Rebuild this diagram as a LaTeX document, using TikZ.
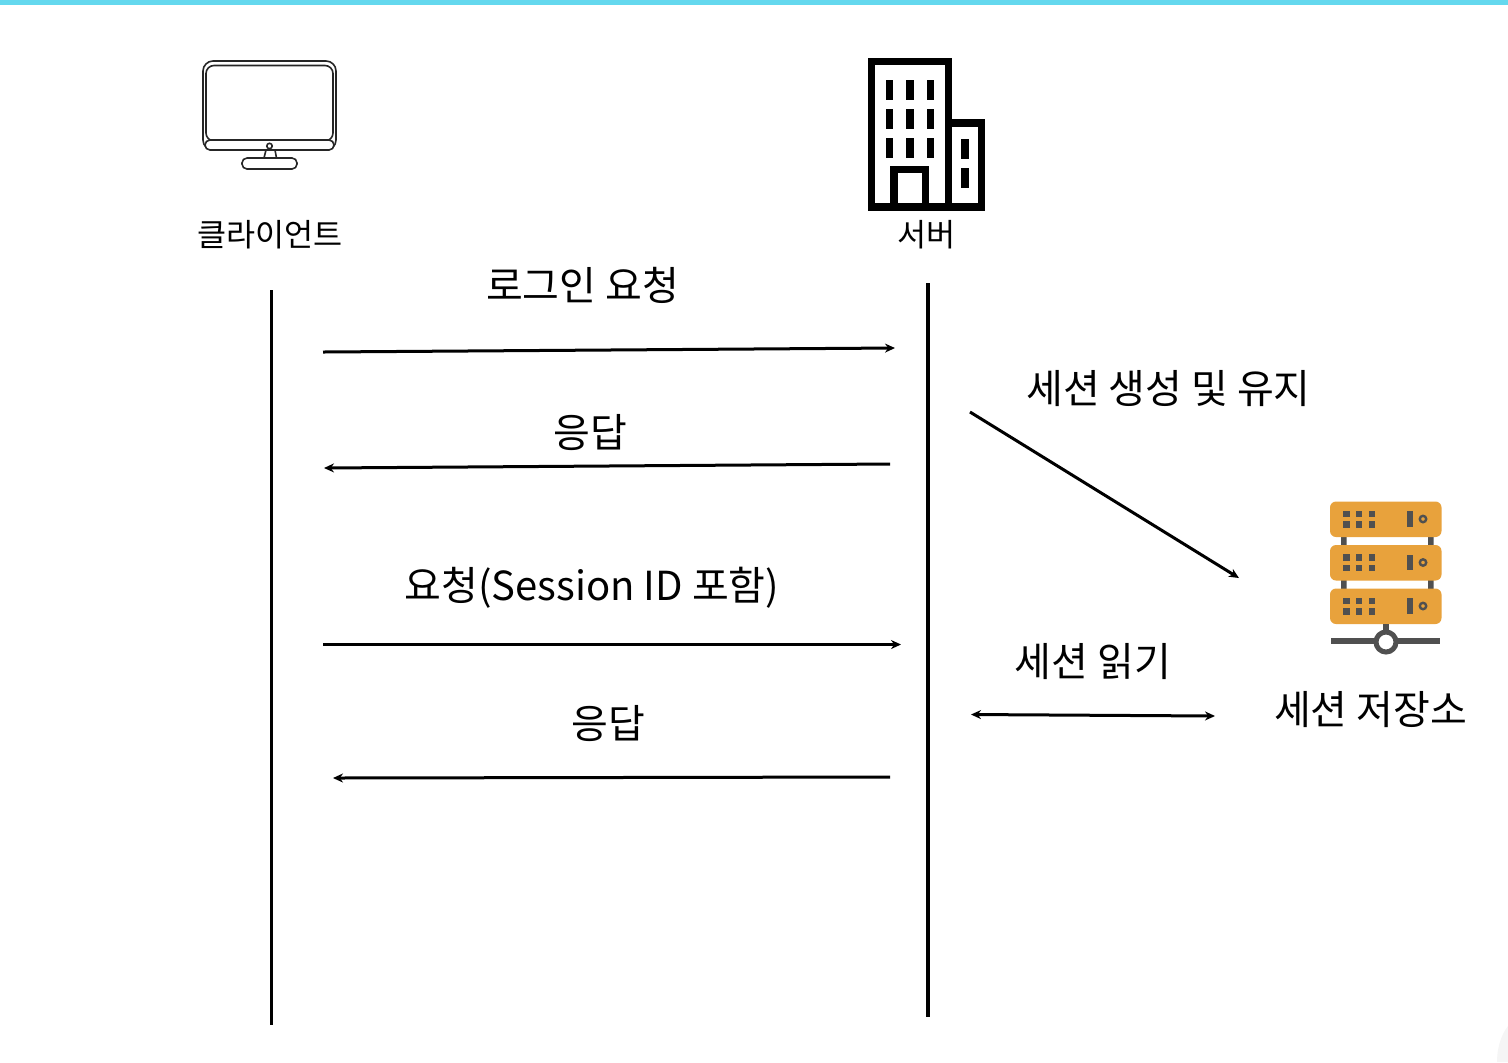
\documentclass[tikz,border=0pt]{standalone}
\usepackage{fontspec}
\setmainfont{Noto Sans CJK KR}
\usetikzlibrary{arrows.meta}
\definecolor{topbar}{HTML}{64D8EE}
\definecolor{rackfill}{HTML}{E8A23C}
\definecolor{rackdark}{HTML}{505050}
\tikzset{
  lifeline/.style={line width=1.6pt},
  message/.style={line width=1.5pt,-{Stealth[length=5pt,width=4.5pt]}},
  msglabel/.style={inner sep=0pt,font=\fontsize{20pt}{22pt}\selectfont},
  iconlabel/.style={inner sep=0pt,font=\fontsize{15.8pt}{18pt}\selectfont},
  monitorline/.style={line width=0.8pt,black!85},
  towerline/.style={line width=3.6pt,line join=miter},
}
\begin{document}
\begin{tikzpicture}[x=0.5pt,y=-0.5pt]
  \useasboundingbox (0,0) rectangle (1508,1062);
  \fill[topbar] (0,0) rectangle (1508,5);
  \fill[black!4] (1508,1026) .. controls (1500,1036) and (1497,1050) .. (1497,1062) -- (1508,1062) -- cycle;
  % client icon
  \draw[monitorline,rounded corners=5pt] (203,61) rectangle (336,150);
  \draw[monitorline,rounded corners=4pt] (206,65.5) rectangle (333,141);
  \draw[monitorline,fill=white,rounded corners=2.5pt] (205,140) rectangle (334,150);
  \draw[monitorline] (264,158) -- (266,150) (275,150) -- (276.5,158);
  \draw[monitorline,fill=white] (269.5,146) circle[radius=2.7];
  \draw[monitorline,rounded corners=2.5pt] (242,158) rectangle (297,169);
  % server icon
  \draw[towerline] (871.5,61.5) rectangle (948.5,207);
  \draw[towerline] (948.5,123) rectangle (981.5,207);
  \draw[towerline] (894,207) -- (894,169.5) -- (925.7,169.5) -- (925.7,207);
  \foreach \wx in {889.5,910,930.5}{
    \foreach \wy in {90,119,148}{
      \fill (\wx-3.8,\wy-10) rectangle (\wx+3.8,\wy+10);
    }
  }
  \foreach \wy in {149,178}{
    \fill (961,\wy-10) rectangle (968.7,\wy+10);
  }
  % store icon
  \fill[rackdark] (1341,530) rectangle (1346.5,600) (1428,530) rectangle (1433.5,600);
  \foreach \ry in {0,43.5,87}{
    \fill[rackfill,rounded corners=3pt] (1330,501.5+\ry) rectangle (1441.5,537+\ry);
    \foreach \dx in {1346.5,1359,1372}{
      \foreach \dy in {514,524.5}{
        \fill[rackdark] (\dx-3.2,\dy-3.2+\ry) rectangle (\dx+3.2,\dy+3.2+\ry);
      }
    }
    \fill[rackdark] (1407,511+\ry) rectangle (1412.5,526.5+\ry);
    \draw[rackdark,line width=1.2pt] (1423,519+\ry) circle[radius=3.2];
  }
  \fill[rackdark] (1383,624) rectangle (1388.5,634);
  \fill[rackdark] (1331,638) rectangle (1440,644);
  \draw[rackdark,line width=2.5pt,fill=white] (1386,642) circle[radius=10];
  % labels
  \node[iconlabel] (clientlabel) at (270,235) {클라이언트};
  \node[iconlabel] (serverlabel) at (926.5,235) {서버};
  \node[msglabel] (loginlabel) at (582.5,285) {로그인 요청};
  \node[msglabel] (resplabela) at (590,433) {응답};
  \node[msglabel] (reqlabel) at (592,588) {요청(Session ID 포함)};
  \node[msglabel] (resplabelb) at (608.5,724) {응답};
  \node[msglabel] (createlabel) at (1168.5,389) {세션 생성 및 유지};
  \node[msglabel] (readlabel) at (1093,661) {세션 읽기};
  \node[msglabel] (storelabel) at (1370.5,710) {세션 저장소};
  % lifelines
  \coordinate (clienttop) at (271.5,290);
  \coordinate (clientend) at (271.5,1025);
  \coordinate (servertop) at (928,283);
  \coordinate (serverend) at (928,1017);
  \draw[lifeline] (clienttop) -- (clientend);
  \draw[lifeline] (servertop) -- (serverend);
  % messages
  \coordinate (loginfrom) at (323,352);
  \coordinate (loginto) at (895,348);
  \coordinate (respafrom) at (890,464);
  \coordinate (respato) at (324,468);
  \coordinate (reqfrom) at (323,644.5);
  \coordinate (reqto) at (901,644.5);
  \coordinate (respbfrom) at (890,777);
  \coordinate (respbto) at (333,778);
  \coordinate (createfrom) at (970,412);
  \coordinate (createto) at (1239,578);
  \coordinate (readfrom) at (971,714.5);
  \coordinate (readto) at (1215,716);
  \draw[message] (loginfrom) -- (loginto);
  \draw[message] (respafrom) -- (respato);
  \draw[message] (reqfrom) -- (reqto);
  \draw[message] (respbfrom) -- (respbto);
  \draw[message] (createfrom) -- (createto);
  \draw[message,{Stealth[length=5pt,width=4.5pt]}-{Stealth[length=5pt,width=4.5pt]}] (readfrom) -- (readto);
\end{tikzpicture}
\end{document}
